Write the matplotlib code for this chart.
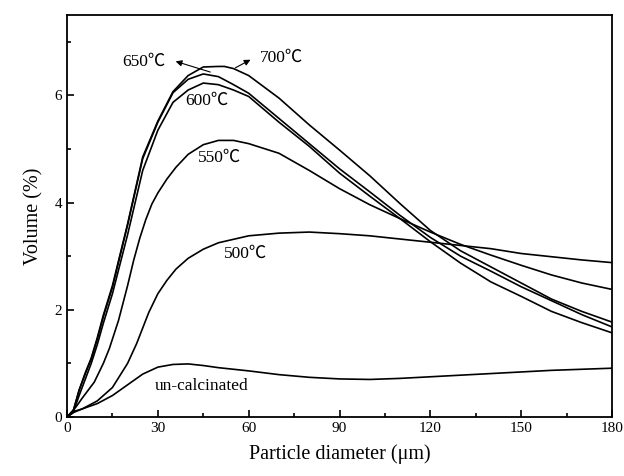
import matplotlib
matplotlib.use('Agg')
from matplotlib import pyplot as plt
from matplotlib.ticker import MultipleLocator

plt.rcParams['font.family'] = ['Liberation Serif', 'Noto Sans CJK SC', 'DejaVu Serif']

# particle size distributions
x_un = [0, 2, 5, 10, 15, 20, 25, 30, 35, 40, 45, 50, 60, 70, 80, 90, 100, 110, 120, 130, 140, 150, 160, 170, 180]
y_un = [0, 0.1, 0.15, 0.25, 0.4, 0.6, 0.8, 0.93, 0.98, 0.99, 0.96, 0.92, 0.86, 0.79, 0.74, 0.71, 0.70, 0.72, 0.75, 0.78, 0.81, 0.84, 0.87, 0.89, 0.91]

x_500 = [0, 2, 5, 10, 15, 20, 23, 27, 30, 33, 36, 40, 45, 50, 60, 70, 80, 90, 100, 110, 120, 130, 140, 150, 160, 170, 180]
y_500 = [0, 0.08, 0.15, 0.3, 0.55, 1.0, 1.37, 1.95, 2.3, 2.55, 2.76, 2.96, 3.13, 3.25, 3.38, 3.43, 3.45, 3.42, 3.38, 3.32, 3.26, 3.2, 3.14, 3.05, 2.99, 2.93, 2.88]

x_550 = [0, 3, 5, 9, 12, 14, 17, 20, 22, 24, 26, 28, 30, 33, 36, 40, 45, 50, 55, 60, 70, 80, 90, 100, 110, 120, 130, 140, 150, 160, 170, 180]
y_550 = [0, 0.19, 0.35, 0.65, 1.0, 1.28, 1.8, 2.45, 2.92, 3.33, 3.68, 3.97, 4.18, 4.44, 4.66, 4.9, 5.08, 5.16, 5.16, 5.1, 4.92, 4.6, 4.26, 3.96, 3.7, 3.45, 3.22, 3.02, 2.83, 2.65, 2.5, 2.38]

x_600 = [0, 2, 4, 6, 8, 10, 12, 15, 20, 25, 30, 35, 40, 45, 50, 55, 60, 70, 80, 90, 100, 110, 120, 130, 140, 150, 160, 170, 180]
y_600 = [0, 0.08, 0.4, 0.7, 1.0, 1.35, 1.75, 2.3, 3.4, 4.6, 5.35, 5.87, 6.1, 6.23, 6.2, 6.1, 5.98, 5.5, 5.05, 4.55, 4.12, 3.7, 3.27, 2.87, 2.52, 2.25, 1.97, 1.76, 1.57]

x_650 = [0, 2, 4, 6, 8, 10, 12, 15, 20, 25, 30, 35, 40, 45, 50, 55, 60, 70, 80, 90, 100, 110, 120, 130, 140, 150, 160, 170, 180]
y_650 = [0, 0.1, 0.5, 0.8, 1.08, 1.45, 1.87, 2.42, 3.58, 4.82, 5.5, 6.05, 6.3, 6.4, 6.35, 6.2, 6.04, 5.57, 5.1, 4.63, 4.2, 3.76, 3.35, 3.0, 2.72, 2.43, 2.17, 1.91, 1.68]

x_700 = [0, 2, 4, 6, 8, 10, 12, 15, 20, 25, 30, 35, 40, 45, 50, 52, 55, 60, 70, 80, 90, 100, 110, 120, 130, 140, 150, 160, 170, 180]
y_700 = [0, 0.1, 0.5, 0.82, 1.1, 1.48, 1.9, 2.45, 3.6, 4.85, 5.52, 6.07, 6.37, 6.53, 6.54, 6.54, 6.5, 6.37, 5.95, 5.45, 4.98, 4.5, 3.98, 3.48, 3.1, 2.8, 2.5, 2.2, 1.97, 1.77]

fig = plt.figure(figsize=(6.24, 4.76), dpi=100)
ax = fig.add_axes([0.1074, 0.124, 0.8734, 0.8445])

lw = 1.2
for xs, ys in [(x_un, y_un), (x_500, y_500), (x_550, y_550),
               (x_600, y_600), (x_650, y_650), (x_700, y_700)]:
    ax.plot(xs, ys, color='black', linewidth=lw)

ax.set_xlim(0, 180)
ax.set_ylim(0, 7.5)
ax.xaxis.set_major_locator(MultipleLocator(30))
ax.xaxis.set_minor_locator(MultipleLocator(15))
ax.yaxis.set_major_locator(MultipleLocator(2))
ax.yaxis.set_minor_locator(MultipleLocator(1))
ax.tick_params(which='both', direction='in', top=False, right=False, labelsize=11, width=1.2)
ax.tick_params(which='major', length=5)
ax.tick_params(which='minor', length=3)
for s in ax.spines.values():
    s.set_linewidth(1.3)

ax.set_xlabel('Particle diameter (μm)', fontsize=14.5, labelpad=7)
ax.set_ylabel('Volume (%)', fontsize=14.5, labelpad=8)

fs = 12.5
ax.text(25.3, 6.62, '650℃', fontsize=fs, ha='center', va='center')
ax.text(71, 6.70, '700℃', fontsize=fs, ha='center', va='center')
ax.text(46.2, 5.9, '600℃', fontsize=fs, ha='center', va='center')
ax.text(50.4, 4.84, '550℃', fontsize=fs, ha='center', va='center')
ax.text(59, 3.04, '500℃', fontsize=fs, ha='center', va='center')
ax.text(44.3, 0.58, 'un-calcinated', fontsize=fs, ha='center', va='center')

arrow = dict(arrowstyle='-|>', color='black', lw=0.8, mutation_scale=9)
ax.annotate('', xy=(35, 6.65), xytext=(48.2, 6.42), arrowprops=arrow)
ax.annotate('', xy=(61.4, 6.69), xytext=(54.8, 6.49), arrowprops=arrow)

fig.savefig('out.png', dpi=100)
